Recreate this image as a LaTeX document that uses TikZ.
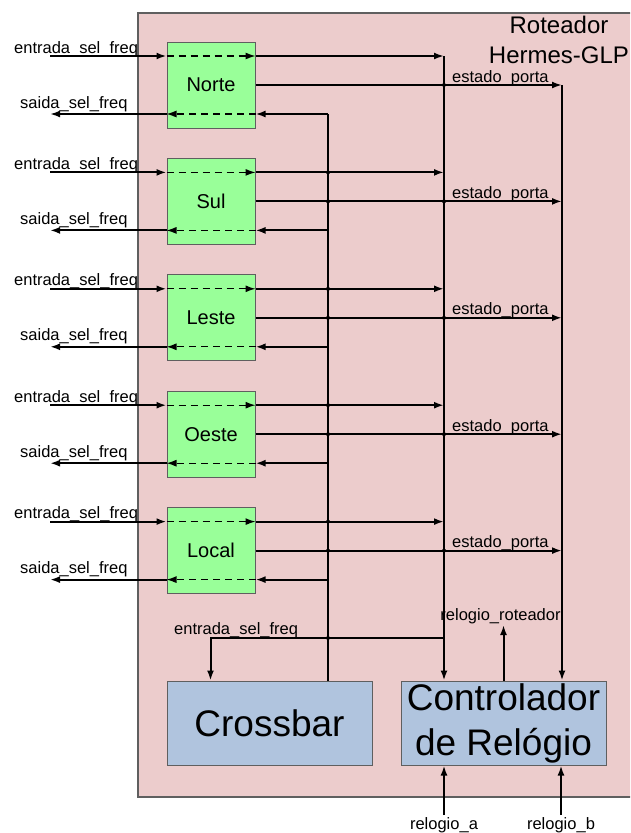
\documentclass[tikz,border=0pt]{standalone}
\usepackage{fontspec}
\setmainfont{Liberation Sans}
\usetikzlibrary{arrows.meta,calc}
\definecolor{routerbg}{RGB}{236,204,204}
\definecolor{portgreen}{RGB}{153,255,153}
\definecolor{blockblue}{RGB}{176,196,222}
\definecolor{edgegray}{RGB}{95,95,95}
\begin{document}
\begin{tikzpicture}[x=1pt,y=-1pt,
  wire/.style={line width=2pt, black},
  arr/.style={-{Latex[length=10pt,width=7pt]}},
  dashwire/.style={line width=1.2pt, black, dash pattern=on 7pt off 5pt},
  portbox/.style={draw=edgegray, line width=1pt, fill=portgreen, minimum width=88pt, minimum height=86pt, inner sep=0pt, font=\fontsize{20}{24}\selectfont},
  block/.style={draw=edgegray, line width=1pt, fill=blockblue, minimum width=205pt, minimum height=84pt, align=center, inner sep=0pt, font=\fontsize{37}{45}\selectfont},
  lbl/.style={font=\fontsize{16.5}{19}\selectfont, inner sep=0pt, anchor=base west},
  clbl/.style={font=\fontsize{16.5}{19}\selectfont, inner sep=0pt, anchor=base},
  jdot/.style={circle, fill=black, inner sep=0pt, minimum size=4pt}
]
\path[use as bounding box] (0,0) rectangle (630,833);
\begin{scope}
  \clip (0,0) rectangle (630,833);
  \draw[edgegray, line width=1.5pt, fill=routerbg] (138,13) rectangle (680,797);
\end{scope}
\node[font=\fontsize{24}{30}\selectfont, align=center, inner sep=0pt, anchor=north] (title) at (559,15.5) {Roteador\\Hermes-GLP};

% blocks
\node[block] (crossbar) at (269.5,723) {Crossbar};
\node[block] (ctrl) at (503.5,723) {Controlador\\de Relógio};

% bus coordinates
\coordinate (busA) at (328,114);
\coordinate (busB) at (444,56);
\coordinate (busC) at (562,85);

% ports
\foreach \p/\name/\i in {norte/Norte/0, sul/Sul/1, leste/Leste/2, oeste/Oeste/3, local/Local/4}{
  \pgfmathsetmacro{\cy}{85+116.4*\i}
  \node[portbox] (\p) at (211,\cy) {\name};
  \coordinate (\p-in) at (50,\cy-29);
  \coordinate (\p-out) at (50,\cy+29);
  % entrada
  \draw[wire,arr] (\p-in) -- (\p.west |- \p-in);
  \draw[dashwire,arr] (\p.west |- \p-in) -- (\p.east |- \p-in);
  \draw[wire,arr] (\p.east |- \p-in) -- (busB |- \p-in);
  \node[lbl] (\p-inlbl) at (14,\cy-32) {entrada\_sel\_freq};
  % estado
  \draw[wire,arr] (\p.east) -- (busC |- \p.east);
  \node[lbl] (\p-estlbl) at (452,\cy-3) {estado\_porta};
  \node[jdot] (\p-dotB) at (busB |- \p.east) {};
  % saida
  \draw[wire,arr] (busA |- \p-out) -- (\p.east |- \p-out);
  \draw[dashwire,arr] (\p.east |- \p-out) -- (\p.west |- \p-out);
  \draw[wire,arr] (\p.west |- \p-out) -- (\p-out);
  \node[lbl] (\p-outlbl) at (20,\cy+23) {saida\_sel\_freq};
}
\foreach \p in {sul,leste,oeste,local}{
  \node[jdot] at (busA |- \p-in) {};
  \node[jdot] at (busA |- \p.east) {};
}

% buses
\draw[wire] (crossbar.north -| busA) -- (busA);
\draw[wire,arr] (busB) -- (ctrl.north -| busB);
\draw[wire,arr] (busC) -- (ctrl.north -| busC);

% entrada_sel_freq to crossbar
\coordinate (split) at (444,638);
\coordinate (xbIn) at ($(crossbar.north west)+(44,0)$);
\draw[wire,arr] (split) -| (xbIn);
\node[jdot] (splitdot) at (busA |- split) {};
\node[lbl] (xblbl) at (174,634) {entrada\_sel\_freq};

% relogio_roteador
\coordinate (rtop) at (503.5,625);
\draw[wire,arr] (ctrl.north) -- (rtop);
\node[clbl] (rrlbl) at (500.5,620) {relogio\_roteador};

% relogio_a, relogio_b
\coordinate (ra) at (444,815);
\coordinate (rb) at (561,815);
\draw[wire,arr] (ra) -- (ctrl.south -| ra);
\draw[wire,arr] (rb) -- (ctrl.south -| rb);
\node[clbl] (ralbl) at (444,829) {relogio\_a};
\node[clbl] (rblbl) at (561,829) {relogio\_b};
\end{tikzpicture}
\end{document}
